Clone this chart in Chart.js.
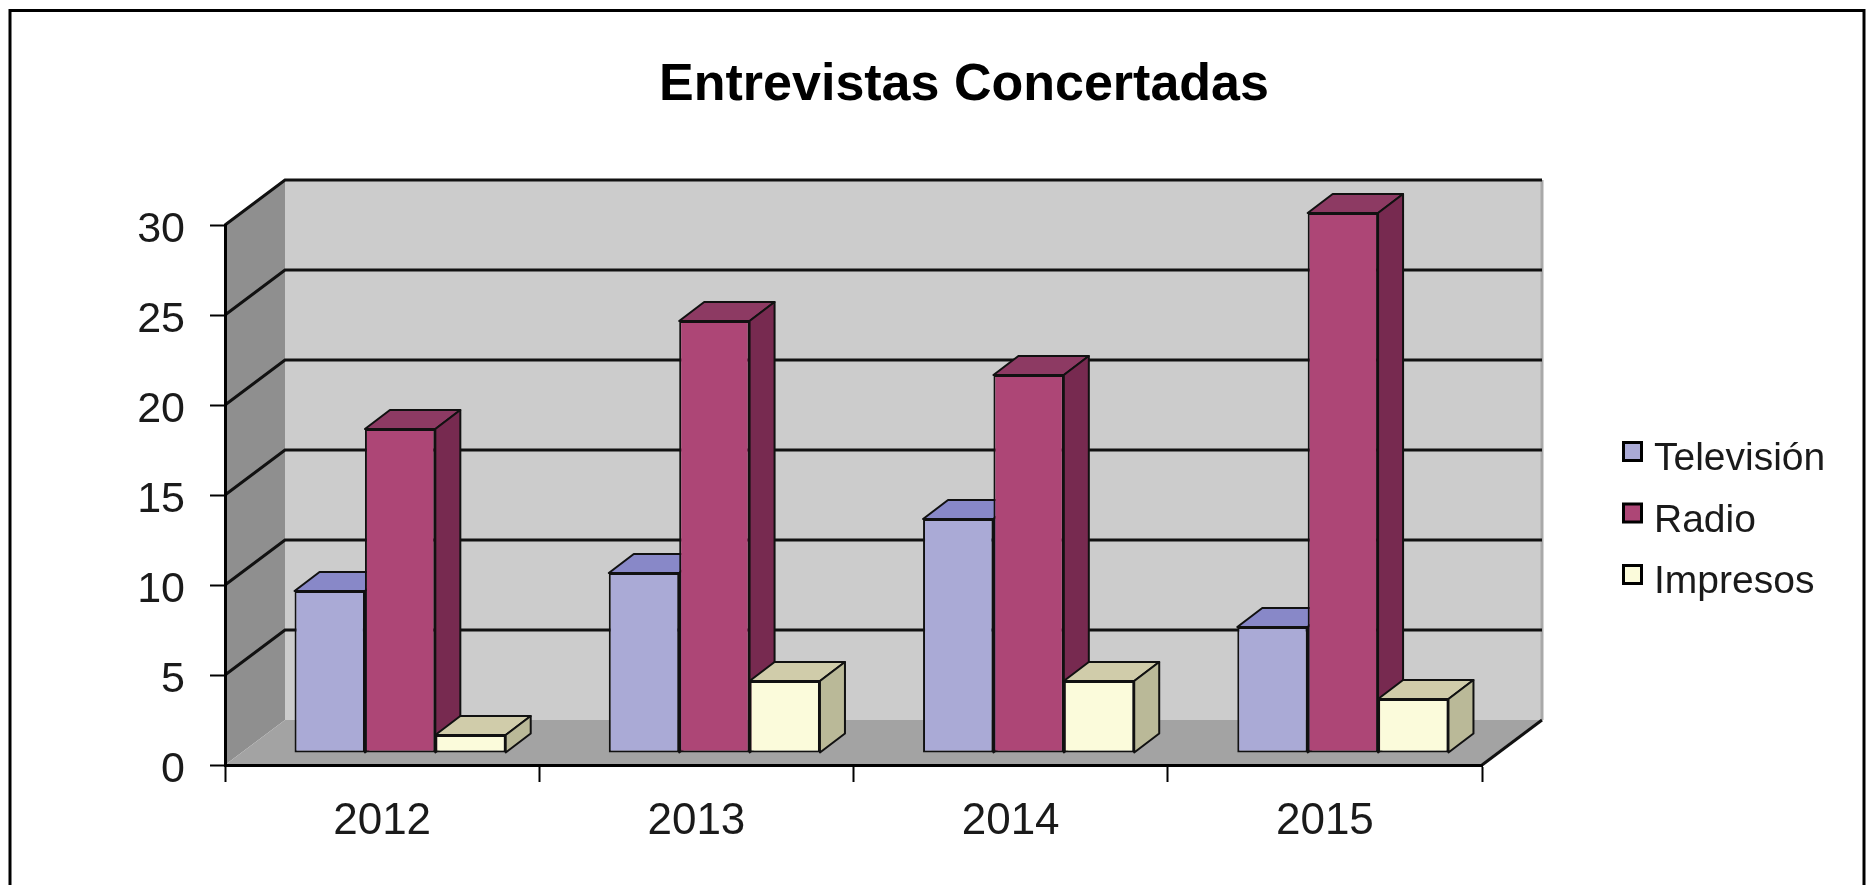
<!DOCTYPE html>
<html lang="es">
<head>
<meta charset="utf-8">
<title>Entrevistas Concertadas</title>
<script src="https://cdn.jsdelivr.net/npm/chart.js@4.4.1/dist/chart.umd.min.js"></script>
<style>
    html, body { margin: 0; padding: 0; background: #fff; }
    #contenedor { width: 1866px; height: 885px; position: relative; }
</style>
</head>
<body>
<div id="contenedor"><canvas id="grafico"></canvas></div>
<script>
// Datos
const anios = ['2012', '2013', '2014', '2015'];
const television = [9, 10, 13, 7];
const radio = [18, 24, 21, 30];
const impresos = [1, 4, 4, 3];
const yMin = 0;
const yMax = 30;
const yPaso = 5;

// Colores de cada serie: frente, tapa y lateral
const colTele = { frente: '#aaaad6', tapa: '#8888c8', lado: '#7a7ab2' };
const colRadio = { frente: '#ad4676', tapa: '#8d3a63', lado: '#772a50' };
const colImpresos = { frente: '#fbfbdb', tapa: '#d0ccaa', lado: '#bab998' };

const PARED = { dx: 60, dy: 45 };    // fondo de las paredes
const BARRA = { dx: 25, dy: 19 };    // fondo de cada barra
const DESPLAZ = { dx: 18, dy: 12 };  // las barras estan un poco metidas hacia el fondo

function poligono(ctx, puntos, relleno, linea, ancho) {
    ctx.beginPath();
    ctx.moveTo(puntos[0][0], puntos[0][1]);
    for (let i = 1; i < puntos.length; i++) ctx.lineTo(puntos[i][0], puntos[i][1]);
    ctx.closePath();
    if (relleno) { ctx.fillStyle = relleno; ctx.fill(); }
    if (linea) { ctx.strokeStyle = linea; ctx.lineWidth = ancho; ctx.lineJoin = 'round'; ctx.stroke(); }
}

// Paredes, piso y lineas de la grilla en 3D
const paredes = {
    id: 'paredes',
    beforeDraw(chart) {
        const ctx = chart.ctx;
        const xs = chart.scales.x, ys = chart.scales.y;
        const L = xs.left, R = xs.right;
        const B = ys.getPixelForValue(yMin), T = ys.getPixelForValue(yMax);
        const dx = PARED.dx, dy = PARED.dy;

        ctx.save();
        ctx.fillStyle = '#ffffff';
        ctx.fillRect(0, 0, chart.width, chart.height);

        // pared lateral
        poligono(ctx, [[L, T], [L + dx, T - dy], [L + dx, B - dy], [L, B]], '#8f8f8f');
        // pared del fondo
        poligono(ctx, [[L + dx, T - dy], [R + dx, T - dy], [R + dx, B - dy], [L + dx, B - dy]], '#cccccc');
        // piso
        poligono(ctx, [[L, B], [L + dx, B - dy], [R + dx, B - dy], [R, B]], '#a3a3a3');

        // borde derecho de la pared
        ctx.strokeStyle = '#a9a9a9';
        ctx.lineWidth = 3;
        ctx.beginPath();
        ctx.moveTo(R + dx, T - dy);
        ctx.lineTo(R + dx, B - dy);
        ctx.stroke();

        // lineas de division
        ctx.strokeStyle = '#111';
        ctx.lineWidth = 3;
        ys.ticks.forEach(t => {
            if (t.value <= yMin) return;
            const y = ys.getPixelForValue(t.value);
            ctx.beginPath();
            ctx.moveTo(L, y);
            ctx.lineTo(L + dx, y - dy);
            ctx.lineTo(R + dx, y - dy);
            ctx.stroke();
        });

        // arista derecha del piso
        ctx.beginPath();
        ctx.moveTo(R, B);
        ctx.lineTo(R + dx, B - dy);
        ctx.stroke();
        ctx.restore();
    },
    afterDraw(chart) {
        // marco exterior
        const ctx = chart.ctx;
        ctx.save();
        ctx.strokeStyle = '#000';
        ctx.lineWidth = 3;
        ctx.strokeRect(10, 10.5, chart.width - 12, chart.height + 50);
        ctx.restore();
    }
};

// Barras con tapa y lateral, dibujadas de izquierda a derecha
const barras3d = {
    id: 'barras3d',
    beforeDatasetsDraw(chart) {
        chart.ctx.save();
        chart.ctx.translate(DESPLAZ.dx, -DESPLAZ.dy);
    },
    beforeDatasetDraw() {
        return false; // las dibujamos nosotros en orden
    },
    afterDatasetsDraw(chart) {
        const ctx = chart.ctx;
        const dx = BARRA.dx, dy = BARRA.dy;
        chart.data.labels.forEach((_, j) => {
            chart.data.datasets.forEach((ds, i) => {
                const barra = chart.getDatasetMeta(i).data[j];
                if (!barra) return;
                barra.draw(ctx);
                const p = barra.getProps(['x', 'y', 'base', 'width'], true);
                const izq = p.x - p.width / 2, der = p.x + p.width / 2;
                const arriba = Math.min(p.y, p.base), abajo = Math.max(p.y, p.base);
                poligono(ctx, [[izq, arriba], [izq + dx, arriba - dy], [der + dx, arriba - dy], [der, arriba]], ds.colores.tapa, '#111', 2);
                poligono(ctx, [[der, arriba], [der + dx, arriba - dy], [der + dx, abajo - dy], [der, abajo]], ds.colores.lado, '#111', 2);
            });
        });
        ctx.restore();
    }
};

// Leyenda a la derecha
const leyenda = {
    id: 'leyenda',
    afterDraw(chart) {
        const ctx = chart.ctx;
        const x = chart.chartArea.right + 140;
        const y0 = chart.chartArea.top + 245;
        ctx.save();
        chart.data.datasets.forEach((ds, i) => {
            const base = y0 + i * 61.5;
            ctx.fillStyle = ds.colores.frente;
            ctx.fillRect(x + 1.5, base - 27.5, 18, 18);
            ctx.strokeStyle = '#000';
            ctx.lineWidth = 3;
            ctx.strokeRect(x + 1.5, base - 27.5, 18, 18);
            ctx.fillStyle = '#1a1a1a';
            ctx.font = '39px "Liberation Sans", Arial, sans-serif';
            ctx.textBaseline = 'alphabetic';
            ctx.textAlign = 'left';
            ctx.fillText(ds.label, x + 32, base);
        });
        ctx.restore();
    }
};

function serie(nombre, valores, colores) {
    return {
        label: nombre,
        data: valores,
        colores: colores,
        backgroundColor: colores.frente,
        borderColor: '#111',
        borderWidth: 2,
        borderSkipped: false,
        clip: false,
        categoryPercentage: 0.672,
        barPercentage: 1.0
    };
}

const fuente = '"Liberation Sans", Arial, Helvetica, sans-serif';

new Chart(document.getElementById('grafico'), {
    type: 'bar',
    data: {
        labels: anios,
        datasets: [
            serie('Televisión', television, colTele),
            serie('Radio', radio, colRadio),
            serie('Impresos', impresos, colImpresos)
        ]
    },
    options: {
        responsive: true,
        maintainAspectRatio: false,
        animation: false,
        devicePixelRatio: 1,
        events: [],
        // el titulo queda centrado sobre la zona del grafico
        layout: { padding: { left: 62, right: 0, top: 0, bottom: 0 } },
        plugins: {
            legend: { display: false },
            tooltip: { enabled: false },
            title: {
                display: true,
                text: 'Entrevistas Concertadas',
                color: '#000',
                font: { family: fuente, size: 52, weight: 'bold', lineHeight: 1.2 },
                padding: { top: 54, bottom: 108.6 }
            }
        },
        scales: {
            x: {
                grid: { display: true, drawOnChartArea: false, drawTicks: true, tickLength: 17, tickWidth: 2, tickColor: '#000', offset: true },
                border: { display: true, color: '#000', width: 3 },
                ticks: { color: '#1a1a1a', font: { family: fuente, size: 44 }, padding: 13 },
                afterFit(s) { s.height = 120; }
            },
            y: {
                min: yMin,
                max: yMax,
                grid: { display: true, drawOnChartArea: false, drawTicks: true, tickLength: 15, tickWidth: 2, tickColor: '#000' },
                border: { display: true, color: '#000', width: 3 },
                ticks: { stepSize: yPaso, color: '#1a1a1a', font: { family: fuente, size: 43 }, padding: 25, labelOffset: 5 },
                afterFit(s) { s.width = 163; }
            },
            // eje vacio solo para reservar el lugar de la leyenda
            espacio: {
                type: 'linear',
                position: 'right',
                display: true,
                grid: { display: false },
                border: { display: false },
                ticks: { display: false },
                afterFit(s) { s.width = 384; }
            }
        }
    },
    plugins: [paredes, barras3d, leyenda]
});
</script>
</body>
</html>
